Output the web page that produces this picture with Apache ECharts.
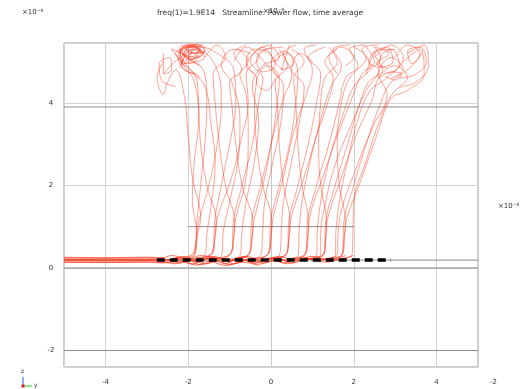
<!DOCTYPE html>
<html>
<head>
<meta charset="utf-8">
<script src="https://cdn.jsdelivr.net/npm/echarts@6/dist/echarts.min.js"></script>
<style>
  html, body { margin: 0; padding: 0; background: #fff; }
  #chart { width: 520px; height: 389px; }
</style>
</head>
<body>
<div id="chart"></div>
<script>
const titleText = 'freq(1)=1.9E14   Streamline: Power flow, time average';
const expLabel = '×10⁻⁶';

// streamlines rising from the structure, [y, z] in µm
const riseLines = [
  [[-2.4,0.22],[-1.95,0.3],[-1.82,0.6],[-1.8,1.0],[-1.7,2.0],[-1.6,3.0],[-1.55,4.0],[-1.6,4.7],[-2.0,5.1],[-2.4,5.3],[-2.1,5.0],[-1.9,5.25]],
  [[-2.3,0.2],[-1.9,0.28],[-1.8,0.7],[-1.75,1.1],[-1.5,2.0],[-1.3,3.0],[-1.2,4.0],[-1.3,4.8],[-1.8,5.3],[-2.2,5.1],[-2.6,4.7],[-2.6,5.2]],
  [[-2.2,0.25],[-1.85,0.35],[-1.78,0.8],[-1.7,1.2],[-1.9,2.2],[-2.0,3.2],[-2.1,4.2],[-2.3,4.8],[-2.5,4.5],[-2.6,4.2],[-2.75,4.6],[-2.6,5.0]],
  [[-2.0,0.2],[-1.5,0.3],[-1.38,0.6],[-1.37,1.0],[-1.2,2.0],[-1.0,3.0],[-0.85,4.0],[-0.9,4.8],[-1.3,5.2],[-1.7,5.35],[-2.0,5.1],[-1.7,4.9]],
  [[-1.9,0.22],[-1.45,0.32],[-1.36,0.7],[-1.32,1.1],[-1.55,2.0],[-1.7,3.0],[-1.75,4.0],[-1.8,4.6],[-2.15,4.9],[-2.0,5.3],[-1.6,5.2]],
  [[-1.8,0.25],[-1.42,0.35],[-1.35,0.8],[-1.3,1.2],[-0.95,2.2],[-0.7,3.2],[-0.55,4.0],[-0.6,4.7],[-0.3,5.1],[-0.6,5.35],[-0.9,5.0]],
  [[-1.5,0.2],[-1.0,0.3],[-0.93,0.6],[-0.92,1.0],[-0.7,2.0],[-0.45,3.0],[-0.3,4.0],[-0.2,4.6],[-0.5,5.0],[-0.2,5.35],[0.1,5.0]],
  [[-1.4,0.22],[-1.0,0.32],[-0.9,0.7],[-0.88,1.1],[-1.1,2.0],[-1.25,3.0],[-1.35,4.0],[-1.4,4.7],[-1.1,5.1],[-1.3,5.4],[-1.6,5.1]],
  [[-1.3,0.24],[-0.98,0.35],[-0.9,0.8],[-0.85,1.2],[-0.6,2.2],[-0.55,3.2],[-0.6,4.2],[-0.75,4.7],[-0.55,5.0],[-0.8,5.3]],
  [[-1.0,0.2],[-0.55,0.3],[-0.49,0.6],[-0.48,1.0],[-0.25,2.0],[0.0,3.0],[0.15,4.0],[0.2,4.6],[-0.1,4.9],[-0.35,4.5],[-0.1,4.3],[0.1,4.6]],
  [[-0.9,0.22],[-0.55,0.32],[-0.46,0.7],[-0.44,1.1],[-0.7,2.0],[-0.85,3.0],[-0.95,4.0],[-1.0,4.5],[-0.7,4.8],[-0.9,5.2],[-0.6,5.4]],
  [[-0.85,0.24],[-0.52,0.35],[-0.45,0.8],[-0.4,1.2],[-0.15,2.2],[0.05,3.2],[0.3,4.1],[0.5,4.7],[0.3,5.2],[0.6,5.4]],
  [[-0.5,0.2],[-0.1,0.3],[-0.03,0.6],[-0.02,1.0],[0.2,2.0],[0.45,3.0],[0.6,4.0],[0.65,4.7],[0.4,5.2],[0.1,5.0],[0.3,4.8]],
  [[-0.45,0.22],[-0.08,0.32],[0.0,0.7],[0.02,1.1],[-0.2,2.0],[-0.35,3.0],[-0.4,4.0],[-0.35,4.6],[-0.6,4.9],[-0.3,5.3],[0.0,5.4]],
  [[-0.4,0.24],[-0.06,0.35],[0.0,0.8],[0.05,1.2],[0.3,2.2],[0.55,3.3],[0.85,4.2],[1.0,4.8],[0.8,5.3],[1.1,5.4]],
  [[-0.05,0.2],[0.35,0.3],[0.41,0.6],[0.42,1.0],[0.65,2.0],[0.9,3.0],[1.1,4.0],[1.2,4.7],[0.9,5.1],[1.3,5.35]],
  [[0.0,0.22],[0.36,0.32],[0.43,0.7],[0.46,1.1],[0.3,2.0],[0.2,3.0],[0.15,4.0],[0.1,4.5],[0.4,4.9],[0.2,5.3]],
  [[0.05,0.24],[0.38,0.35],[0.44,0.8],[0.48,1.2],[0.8,2.2],[1.1,3.2],[1.4,4.1],[1.5,4.6],[1.3,5.0],[1.6,5.3]],
  [[0.4,0.2],[0.8,0.3],[0.86,0.6],[0.87,1.0],[1.1,2.0],[1.4,3.0],[1.65,4.0],[1.8,4.6],[2.1,4.9],[1.9,5.3],[2.3,5.4]],
  [[0.45,0.22],[0.82,0.32],[0.88,0.7],[0.9,1.1],[0.75,2.0],[0.65,3.0],[0.6,4.0],[0.55,4.6],[0.8,5.0],[0.5,5.3]],
  [[0.5,0.24],[0.84,0.35],[0.9,0.8],[0.93,1.2],[1.25,2.2],[1.6,3.2],[1.95,4.1],[2.2,4.7],[2.5,5.0],[2.3,5.35]],
  [[0.85,0.2],[1.25,0.3],[1.3,0.6],[1.31,1.0],[1.55,2.0],[1.85,3.0],[2.15,4.0],[2.35,4.5],[2.7,4.8],[2.5,5.2],[2.9,5.3],[3.1,4.9],[2.8,4.7]],
  [[0.9,0.22],[1.27,0.32],[1.32,0.7],[1.34,1.1],[1.2,2.0],[1.15,3.0],[1.2,4.0],[1.3,4.6],[1.6,5.0],[1.4,5.35]],
  [[0.95,0.24],[1.28,0.35],[1.33,0.8],[1.37,1.2],[1.7,2.2],[2.05,3.2],[2.45,4.1],[2.6,4.6],[3.0,4.9],[3.3,4.6],[3.1,4.4]],
  [[1.3,0.2],[1.7,0.3],[1.74,0.6],[1.75,1.0],[2.0,2.0],[2.3,3.0],[2.65,4.0],[2.9,4.5],[3.3,4.8],[3.6,5.2],[3.3,5.4],[3.0,5.1]],
  [[1.35,0.22],[1.72,0.32],[1.76,0.7],[1.8,1.1],[1.65,2.0],[1.6,3.0],[1.7,4.0],[1.9,4.6],[2.3,5.1],[2.0,5.35]],
  [[1.4,0.24],[1.74,0.35],[1.78,0.8],[1.83,1.2],[2.2,2.2],[2.55,3.2],[2.9,4.1],[3.3,4.3],[3.7,4.7],[3.6,5.3],[3.2,5.0]],
  [[-2.5,0.2],[-1.85,0.3],[-1.8,0.9],[-1.9,1.6],[-1.85,2.6],[-1.75,3.6],[-1.85,4.5],[-2.1,4.9],[-2.3,5.2],[-1.9,5.35],[-1.6,5.1],[-2.0,4.95]],
  [[-2.1,0.22],[-1.6,0.3],[-1.55,0.8],[-1.45,1.5],[-1.35,2.5],[-1.45,3.5],[-1.6,4.4],[-1.95,4.8],[-2.2,5.2],[-1.8,5.4]],
  [[-1.7,0.2],[-1.2,0.28],[-1.15,0.9],[-1.0,1.6],[-0.8,2.6],[-0.75,3.6],[-0.95,4.5],[-1.2,4.9],[-0.9,5.3],[-0.5,5.2]],
  [[-1.2,0.2],[-0.75,0.3],[-0.7,0.9],[-0.6,1.6],[-0.4,2.6],[-0.3,3.6],[-0.45,4.4],[-0.2,4.9],[0.2,5.1],[0.0,5.4]],
  [[-0.7,0.2],[-0.25,0.3],[-0.2,0.9],[-0.15,1.6],[0.05,2.6],[0.25,3.6],[0.3,4.4],[0.0,4.8],[-0.3,5.2],[0.3,5.35]],
  [[-0.25,0.2],[0.2,0.3],[0.25,0.9],[0.3,1.6],[0.5,2.6],[0.7,3.6],[0.8,4.4],[0.5,4.8],[0.7,5.2],[1.0,5.0]],
  [[0.2,0.2],[0.65,0.3],[0.68,0.9],[0.75,1.6],[0.95,2.6],[1.2,3.6],[1.45,4.4],[1.7,4.9],[1.5,5.3],[1.9,5.4]],
  [[0.65,0.2],[1.1,0.3],[1.12,0.9],[1.2,1.6],[1.4,2.6],[1.7,3.6],[2.0,4.4],[2.4,4.9],[2.2,5.3],[2.6,5.4]],
  [[1.1,0.2],[1.55,0.3],[1.57,0.9],[1.65,1.6],[1.85,2.6],[2.1,3.6],[2.4,4.3],[2.8,4.6],[3.2,5.1],[2.9,5.4],[2.5,5.1]],
  [[1.5,0.2],[1.95,0.3],[1.98,0.9],[2.0,1.6],[2.3,2.6],[2.6,3.5],[3.0,4.3],[3.5,4.5],[3.8,4.9],[3.7,5.4],[3.3,5.2]],
  [[1.2,0.22],[1.6,0.32],[1.62,0.8],[1.7,1.4],[2.05,2.4],[2.45,3.4],[2.8,4.2],[2.6,4.7],[2.9,5.1],[3.2,4.8],[2.9,4.6]],
  [[0.8,0.22],[1.2,0.32],[1.2,0.8],[1.3,1.5],[1.55,2.5],[1.95,3.5],[2.3,4.3],[2.6,4.8],[2.35,5.0],[2.55,5.3]]
];

// short looping streamlines near the top edge
const topLoops = [
  [[-1.7,4.6],[-2.0,4.85],[-2.2,5.05],[-2.1,5.35],[-1.75,5.3],[-1.85,5.0],[-2.15,4.95],[-2.0,5.25],[-1.65,5.4]],
  [[-1.8,4.7],[-2.1,4.8],[-2.25,5.15],[-1.95,5.4],[-1.7,5.2],[-1.95,5.05],[-2.2,5.3]],
  [[-2.3,4.4],[-2.65,4.55],[-2.7,4.95],[-2.45,5.1],[-2.4,4.8],[-2.6,4.7]],
  [[-2.15,4.9],[-2.2,5.3],[-1.9,5.42],[-1.6,5.3],[-1.75,5.1],[-2.1,5.2],[-1.85,5.38],[-1.65,5.2],[-2.0,5.05],[-2.15,5.3]],
  [[-2.2,4.85],[-2.05,5.15],[-1.7,5.25],[-1.9,5.4],[-2.2,5.25],[-1.95,5.1],[-1.7,5.35],[-2.1,5.38]],
  [[-2.1,4.95],[-1.8,5.15],[-2.05,5.3],[-1.75,5.42],[-1.6,5.25],[-1.9,5.2],[-2.15,5.4]],
  [[-0.4,4.7],[-0.6,5.0],[-0.4,5.3],[-0.05,5.2],[0.1,4.9],[-0.2,4.75],[-0.35,5.05],[0.0,5.35]],
  [[0.2,4.6],[0.0,4.95],[0.35,5.25],[0.55,4.95],[0.25,4.8],[0.45,5.4]],
  [[2.3,4.7],[2.5,5.2],[2.8,5.35],[2.95,5.0],[2.6,4.85],[2.7,5.2],[3.0,5.3]],
  [[2.4,4.8],[2.65,5.1],[2.5,5.35],[2.85,5.2],[2.55,4.95],[2.8,4.85]],
  [[2.6,4.6],[2.9,4.75],[3.15,4.7],[3.0,4.55],[2.75,4.65]],
  [[3.1,4.6],[3.5,4.7],[3.75,5.0],[3.6,5.35],[3.3,5.25],[3.4,4.95],[3.65,5.2]],
  [[1.6,4.7],[1.4,5.1],[1.7,5.35],[2.0,5.1],[1.8,4.9]]
];

// guided streamlines along the waveguide
const guideLines = [
  [[-5,0.24],[-4,0.23],[-3,0.24],[-2.6,0.22],[-2.2,0.12],[-1.9,0.2],[-1.6,0.1],[-1.2,0.2],[-0.9,0.1],[-0.5,0.22],[-0.2,0.12],[0.2,0.2],[0.5,0.12],[0.9,0.22],[1.3,0.14],[1.7,0.22],[2.0,0.3]],
  [[-5,0.21],[-4,0.2],[-3,0.21],[-2.5,0.2],[-2.1,0.28],[-1.8,0.14],[-1.4,0.26],[-1.0,0.15],[-0.7,0.27],[-0.3,0.16],[0.1,0.26],[0.4,0.16],[0.8,0.26],[1.1,0.17],[1.5,0.26]],
  [[-5,0.18],[-4,0.17],[-3,0.18],[-2.7,0.17],[-2.3,0.1],[-2.0,0.18],[-1.7,0.08],[-1.3,0.17],[-1.0,0.08],[-0.6,0.18],[-0.3,0.09],[0.1,0.18],[0.4,0.1],[0.7,0.2]],
  [[-5,0.15],[-4,0.14],[-3,0.15],[-2.6,0.14],[-2.3,0.22],[-1.9,0.1],[-1.5,0.24],[-1.1,0.1],[-0.8,0.24],[-0.4,0.12],[0.0,0.24],[0.3,0.12],[0.6,0.24]],
  [[-5,0.26],[-4,0.25],[-3,0.26],[-2.6,0.25],[-2.4,0.3],[-2.0,0.22],[-1.7,0.3],[-1.3,0.22]],
  [[-5,0.13],[-4,0.13],[-3,0.14],[-2.6,0.12],[-2.2,0.16],[-1.8,0.07],[-1.5,0.16],[-1.1,0.06],[-0.7,0.14],[-0.3,0.06]],
  [[-5,0.2],[-4,0.19],[-3,0.2],[-2.6,0.19],[-2.2,0.25],[-1.8,0.17],[-1.4,0.28],[-1.0,0.18],[-0.6,0.28],[-0.2,0.18],[0.2,0.28],[0.6,0.18],[1.0,0.28],[1.4,0.2],[1.8,0.3]]
];

// outline of the geometry
const geomLines = [
  [[-5,3.9],[5,3.9]],
  [[-5,0.19],[5,0.19]],
  [[-5,0],[5,0]],
  [[-5,-2],[5,-2]],
  [[-2,1.0],[2,1.0]]
];
const slotLine = [[-2.76,0.19],[2.9,0.19]];

const chart = echarts.init(document.getElementById('chart'));

const series = [];
geomLines.forEach(d => series.push({
  type: 'line', data: d, showSymbol: false, silent: true,
  lineStyle: { color: '#8c8c8c', width: 1 }
}));
guideLines.forEach(d => series.push({
  type: 'line', data: d, showSymbol: false, silent: true, smooth: 0.4,
  lineStyle: { color: '#ff2200', width: 0.8, opacity: 0.8 }
}));
riseLines.concat(topLoops).forEach(d => series.push({
  type: 'line', data: d, showSymbol: false, silent: true, smooth: 0.4,
  lineStyle: { color: '#ff2200', width: 0.6, opacity: 0.7 }
}));
series.push({
  type: 'line', data: slotLine, showSymbol: false, silent: true, z: 5,
  lineStyle: { color: '#000', width: 3.5, type: [8, 5] }
});

const tickFont = { fontSize: 7, color: '#333', fontFamily: 'DejaVu Sans' };

chart.setOption({
  animation: false,
  grid: { left: 64, right: 42, top: 43, bottom: 22, show: true, borderColor: '#999', borderWidth: 1 },
  xAxis: {
    type: 'value', min: -5, max: 5, splitNumber: 5, offset: 16,
    axisLine: { show: true, lineStyle: { color: '#c8c8c8' } },
    axisTick: { show: false },
    axisLabel: Object.assign({ margin: -4, showMinLabel: false, showMaxLabel: false, backgroundColor: '#fff', padding: [0, 2] }, tickFont),
    splitLine: { show: true, lineStyle: { color: '#d3d3d3', width: 1 } }
  },
  yAxis: {
    type: 'value', min: -2.4, max: 5.45, splitNumber: 4, offset: 16,
    axisLine: { show: true, lineStyle: { color: '#c8c8c8' } },
    axisTick: { show: false },
    axisLabel: Object.assign({ margin: -3, showMinLabel: false, showMaxLabel: false, backgroundColor: '#fff', padding: [2, 0], align: 'center' }, tickFont),
    splitLine: { show: true, lineStyle: { color: '#d3d3d3', width: 1 } }
  },
  graphic: [
    { type: 'text', left: 'center', top: 9, style: { text: titleText, fontSize: 7.5, fill: '#333', fontFamily: 'DejaVu Sans' } },
    { type: 'text', left: 263, top: 8, style: { text: expLabel, fontSize: 7, fill: '#333', fontFamily: 'DejaVu Sans' } },
    { type: 'text', left: 22, top: 9, style: { text: expLabel, fontSize: 7, fill: '#333', fontFamily: 'DejaVu Sans' } },
    { type: 'text', left: 498, top: 203, style: { text: expLabel, fontSize: 7, fill: '#333', fontFamily: 'DejaVu Sans' } },
    { type: 'text', left: 490, top: 379, style: { text: '-2', fontSize: 7, fill: '#333', fontFamily: 'DejaVu Sans' } },
    { type: 'line', shape: { x1: 23, y1: 386, x2: 23, y2: 377 }, style: { stroke: '#2255ff', lineWidth: 1 } },
    { type: 'line', shape: { x1: 23, y1: 386, x2: 32, y2: 386 }, style: { stroke: '#22cc22', lineWidth: 1 } },
    { type: 'rect', shape: { x: 21.5, y: 384.5, width: 3, height: 3 }, style: { fill: '#dd2222' } },
    { type: 'text', left: 21, top: 368, style: { text: 'z', fontSize: 6, fill: '#333', fontFamily: 'DejaVu Sans' } },
    { type: 'text', left: 34, top: 382, style: { text: 'y', fontSize: 6, fill: '#333', fontFamily: 'DejaVu Sans' } }
  ],
  series: series
});
</script>
</body>
</html>
